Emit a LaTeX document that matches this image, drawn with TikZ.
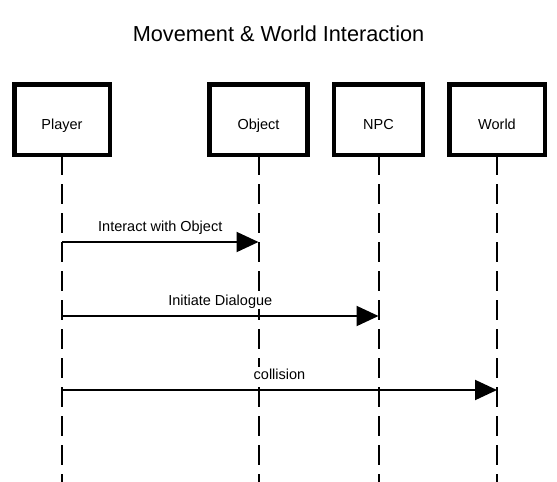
\documentclass[tikz,border=0pt]{standalone}
\usepackage{fontspec}
\setmainfont{Liberation Sans}
\usetikzlibrary{arrows.meta}
\begin{document}
\begin{tikzpicture}[x=1pt,y=1pt]
    \tikzstyle{every node}+=[inner sep=0pt]
    \tikzstyle{actor}=[draw=black, line width=4.5pt, minimum height=70.5pt]
    \tikzstyle{lifeline}=[black, line width=2pt, dash pattern=on 20pt off 9pt]
    \tikzstyle{msg}=[black, line width=2pt, -{Triangle[length=22pt,width=20pt]}]
    \tikzstyle{txt}=[anchor=base, font=\fontsize{14.5}{16}\selectfont]
    \tikzstyle{msgtxt}=[txt, fill=white, inner sep=1pt]
    \useasboundingbox (0,0) rectangle (557,-482);
    \draw (278.5,-41) node [anchor=base, font=\fontsize{21.7}{24}\selectfont] (title) {Movement \& World Interaction};
    % lifelines
    \draw [lifeline] (62,-155) coordinate (pTop) -- (62,-482) coordinate (pEnd);
    \draw [lifeline] (258.5,-155) coordinate (oTop) -- (258.5,-482) coordinate (oEnd);
    \draw [lifeline] (378.5,-155) coordinate (nTop) -- (378.5,-482) coordinate (nEnd);
    \draw [lifeline] (497,-155) coordinate (wTop) -- (497,-482) coordinate (wEnd);
    % participants
    \node [actor, minimum width=95.5pt] (player) at (62,-119.5) {};
    \draw (62,-129) node [txt] (playerTxt) {Player};
    \node [actor, minimum width=98pt] (object) at (258.5,-119.5) {};
    \draw (258.5,-129) node [txt] (objectTxt) {Object};
    \node [actor, minimum width=89pt] (npc) at (378.5,-119.5) {};
    \draw (378.5,-129) node [txt] (npcTxt) {NPC};
    \node [actor, minimum width=95.5pt] (world) at (497,-119.5) {};
    \draw (497,-129) node [txt] (worldTxt) {World};
    % messages
    \coordinate (p1) at (62,-242);
    \coordinate (o1) at (258.5,-242);
    \draw [msg] (p1) -- (o1);
    \draw (160.25,-231) node [msgtxt] (m1) {Interact with Object};
    \coordinate (p2) at (62,-316);
    \coordinate (n2) at (378.5,-316);
    \draw [msg] (p2) -- (n2);
    \draw (220.25,-305) node [msgtxt] (m2) {Initiate Dialogue};
    \coordinate (p3) at (62,-390);
    \coordinate (w3) at (497,-390);
    \draw [msg] (p3) -- (w3);
    \draw (279.5,-379) node [msgtxt] (m3) {collision};
\end{tikzpicture}
\end{document}
